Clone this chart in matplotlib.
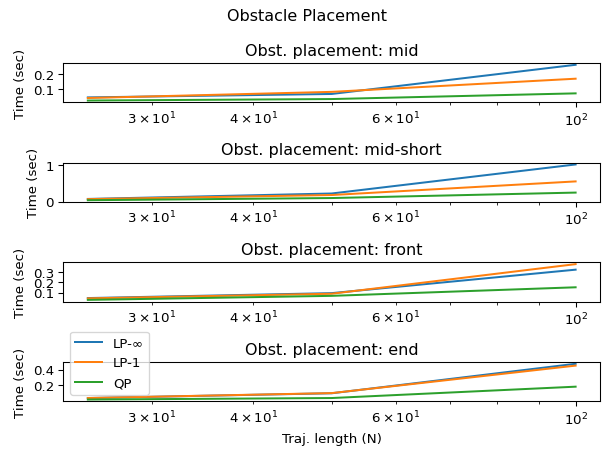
import numpy as np
import matplotlib
matplotlib.use("Agg")
import matplotlib.pyplot as plt

N = [25, 50, 100]
placements = ["mid", "mid-short", "front", "end"]

lp_inf = [
    [0.044, 0.067, 0.262],
    [0.075, 0.225, 1.025],
    [0.045, 0.094, 0.327],
    [0.042, 0.102, 0.473],
]
lp_1 = [
    [0.040, 0.081, 0.169],
    [0.070, 0.183, 0.558],
    [0.042, 0.088, 0.382],
    [0.042, 0.104, 0.450],
]
qp = [
    [0.023, 0.033, 0.071],
    [0.040, 0.100, 0.250],
    [0.027, 0.067, 0.152],
    [0.023, 0.042, 0.185],
]

fig, axs = plt.subplots(4, 1, figsize=(6.4, 4.8), dpi=96)
fig.suptitle("Obstacle Placement")

for i, ax in enumerate(axs):
    ax.plot(N, lp_inf[i], label="LP-∞")
    ax.plot(N, lp_1[i], label="LP-1")
    ax.plot(N, qp[i], label="QP")
    ax.set_xscale("log")
    ax.set_title("Obst. placement: " + placements[i])
    ax.set_ylabel("Time (sec)")

axs[-1].set_xlabel("Traj. length (N)")
axs[-1].legend(loc="lower left")

fig.tight_layout()
fig.savefig("out.png", dpi=96)
